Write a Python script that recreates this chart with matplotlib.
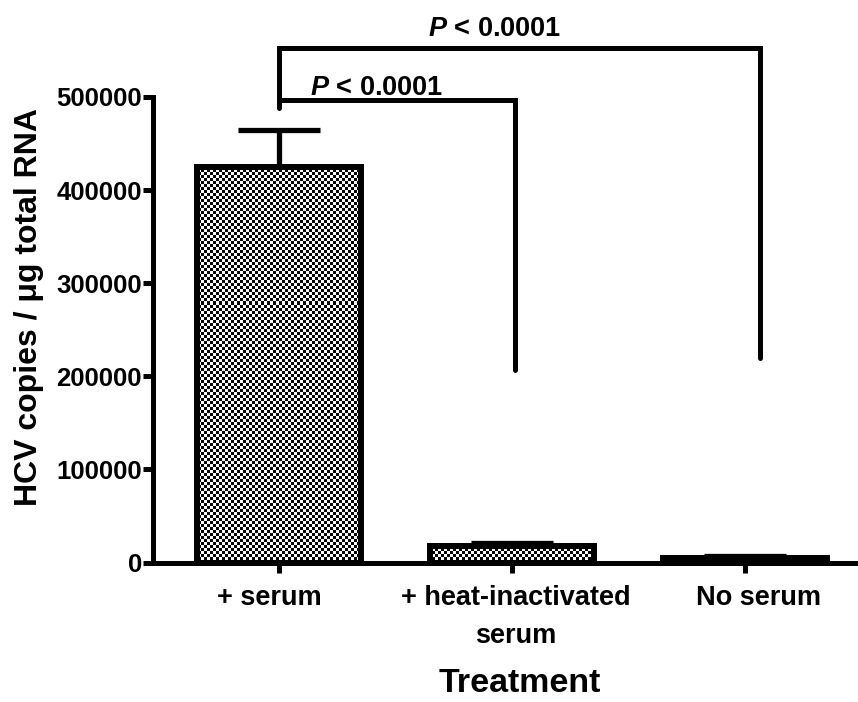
import numpy as np
import matplotlib
matplotlib.use("Agg")
import matplotlib.pyplot as plt
import matplotlib.transforms as mtransforms

categories = ["+ serum", "+ heat-inactivated\nserum", "No serum"]
values = [425000, 18000, 5000]
errors = [40000, 2500, 2000]
yticks = [0, 100000, 200000, 300000, 400000, 500000]
p_label = "$P$ < 0.0001"

plt.rcParams['font.family'] = ['Liberation Sans', 'DejaVu Sans']
plt.rcParams['font.weight'] = 'bold'
plt.rcParams['mathtext.fontset'] = 'custom'
plt.rcParams['mathtext.it'] = 'Liberation Sans:italic:bold'
plt.rcParams['mathtext.rm'] = 'Liberation Sans:bold'

fig = plt.figure(figsize=(8.58, 7.02), dpi=100)
ax = fig.add_axes([153/858, 1-562.5/702, 1-153/858, (562.5-97)/702])

x = np.arange(len(categories))
XL = (-0.541, 2.485)
ax.set_xlim(*XL)
ax.set_ylim(0, 500000)

lw = 4.3
bars = ax.bar(x, values, width=0.7, facecolor='none', edgecolor='black',
              linewidth=lw, zorder=3)
ax.errorbar(x, values, yerr=[np.zeros(len(errors)), errors], fmt='none',
            ecolor='black', elinewidth=3.8, capsize=29.5, capthick=3.8, zorder=2)

# checkerboard fill
axw, axh = 705, 466
cell = 3
nx, ny = axw // cell, axh // cell
checker = (np.add.outer(np.arange(ny), np.arange(nx)) % 2).astype(float)
for b in bars:
    im = ax.imshow(checker, cmap='gray', vmin=0, vmax=1, interpolation='nearest',
                   extent=[XL[0], XL[1], 0, 500000], aspect='auto', zorder=2.5)
    im.set_clip_path(b)
ax.set_xlim(*XL)
ax.set_ylim(0, 500000)

for s in ['top', 'right']:
    ax.spines[s].set_visible(False)
for s in ['left', 'bottom']:
    ax.spines[s].set_linewidth(3.6)
ax.set_xticks(x)
ax.set_xticklabels(categories, fontsize=19.5, fontweight='bold', linespacing=1.6)
ax.set_yticks(yticks)
ax.set_yticklabels([str(t) for t in yticks], fontsize=18.5, fontweight='bold')
ax.tick_params(axis='x', length=7.5, width=3.6, direction='out', pad=8.5)
ax.tick_params(axis='y', length=7.5, width=3.6, direction='out', pad=0.5)
for lab, dx in zip(ax.get_xticklabels(), [-0.10, 0.04, 0.13]):
    lab.set_transform(lab.get_transform() +
                      mtransforms.ScaledTranslation(dx, 0, fig.dpi_scale_trans))
ax.set_ylabel("HCV copies / \u03bcg total RNA", fontsize=23, fontweight='bold')
ax.yaxis.set_label_coords(-0.155, 0.549)
ax.set_xlabel("Treatment", fontsize=24.5, fontweight='bold')
ax.xaxis.set_label_coords(0.521, -0.226)

# significance brackets
blw = 3.6
ax.plot([0, 0, 2.064, 2.064], [488200, 552600, 552600, 219700], color='black',
        lw=blw, clip_on=False, solid_capstyle='round', solid_joinstyle='miter', zorder=4)
ax.plot([0, 1.013, 1.013], [496800, 496800, 206800], color='black',
        lw=blw, clip_on=False, solid_capstyle='round', solid_joinstyle='miter', zorder=4)
ax.text(0.64, 566000, p_label, fontsize=19.5, fontweight='bold', ha='left', va='baseline')
ax.text(0.133, 502500, p_label, fontsize=19.5, fontweight='bold', ha='left', va='baseline')

fig.savefig("out.png", dpi=100)
